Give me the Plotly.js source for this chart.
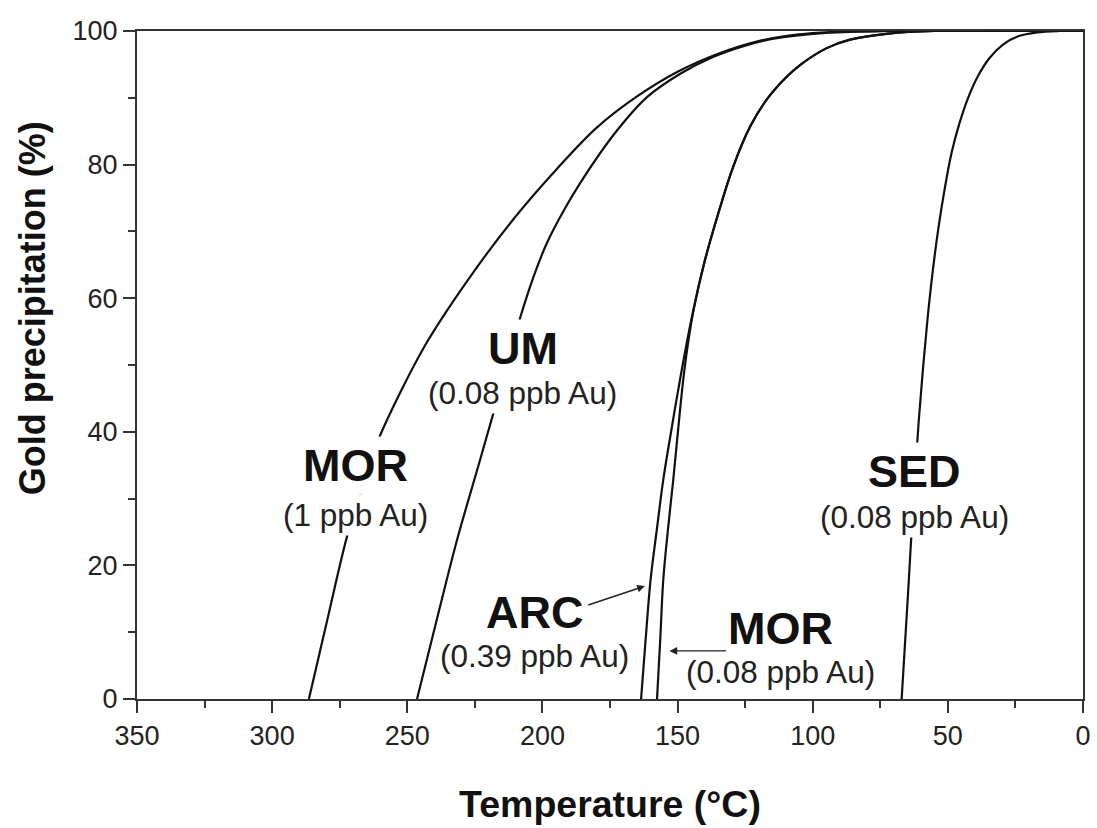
<!DOCTYPE html>
<html>
<head>
<meta charset="utf-8">
<script src="https://cdn.plot.ly/plotly-3.0.1.min.js"></script>
<style>html,body{margin:0;padding:0;background:#fff;}#chart{width:1097px;height:828px;}</style>
</head>
<body>
<div id="chart"></div>
<script>
// Temperature (°C) and gold precipitation (%)
const morHighT = [286.4, 279.5, 271.9, 266, 261.2, 252.7, 242.3, 225.7, 210, 195, 180, 165, 150, 135, 120, 105, 90, 75, 0];
const morHighY = [0, 12, 24.9, 32.2, 38.3, 45.8, 53.7, 63.8, 72.2, 79.2, 85.5, 90.2, 93.9, 96.6, 98.5, 99.5, 99.9, 100, 100];

const umT = [246.4, 239, 231.6, 224, 217.5, 213, 208.3, 203.3, 198.3, 192, 186.1, 173, 161.3, 149, 136.9, 125, 115, 95, 70, 0];
const umY = [0, 12, 23.8, 34.5, 43.7, 50.3, 57, 63.2, 68.3, 73.2, 77.2, 84.8, 90.1, 93.6, 96.1, 97.8, 98.8, 99.7, 100, 100];

const arcT = [163.5, 161.8, 160.0, 157.6, 155.3, 152.2, 149.1, 144.8, 140, 135, 129.5, 123, 116.9, 110, 104.7, 95, 86.2, 72, 55, 0];
const arcY = [0, 9, 17.8, 25.6, 32.8, 40.5, 47.8, 57, 65.5, 72.6, 79.6, 85.8, 89.8, 93, 94.9, 97.4, 98.7, 99.6, 100, 100];

const morLowT = [157.6, 156.4, 155.3, 153.4, 151.6, 149.8, 147.9, 146, 144, 140, 135, 129.5, 123, 116.9, 110, 104.7, 95, 86.2, 72, 55, 0];
const morLowY = [0, 9, 17.8, 26, 32.8, 40.3, 47.8, 53.6, 58.4, 65.5, 72.6, 79.6, 85.8, 89.8, 93, 94.9, 97.4, 98.7, 99.6, 100, 100];

const sedT = [67.1, 65.9, 64.7, 63.5, 62.2, 60.8, 59.2, 57.5, 55.6, 53.5, 51.2, 48.6, 45.7, 42.5, 38.8, 34.5, 29.5, 24, 17, 9, 0];
const sedY = [0, 8, 16, 24.5, 33, 41.5, 49.5, 57, 64, 70.5, 76.3, 81.8, 86.2, 90, 93.3, 96, 98, 99.2, 99.8, 100, 100];

// Labels: name, concentration, position (T, %)
const labelNames = ["MOR", "UM", "ARC", "MOR", "SED"];
const labelConc = ["(1 ppb Au)", "(0.08 ppb Au)", "(0.39 ppb Au)", "(0.08 ppb Au)", "(0.08 ppb Au)"];
const labelT = [269.3, 207.2, 202.8, 112.1, 62.2];
const labelNameY = [34.9, 52.4, 13.0, 10.6, 34.0];
const labelConcY = [27.6, 45.8, 6.4, 4.0, 27.2];

// Arrows: [tail T, tail %, head T, head %]
const arrowARC = [183.6, 14.0, 162.1, 16.9];
const arrowMOR = [131.5, 7.2, 153.0, 7.2];

const FONT = "Liberation Sans, Arial, sans-serif";
const lineStyle = {color: "#111", width: 2.2, shape: "spline", smoothing: 1};

const traces = [
  {x: morHighT, y: morHighY},
  {x: umT, y: umY},
  {x: arcT, y: arcY},
  {x: morLowT, y: morLowY},
  {x: sedT, y: sedY}
].map(d => Object.assign({type: "scatter", mode: "lines", line: lineStyle, hoverinfo: "skip", cliponaxis: true}, d));

const annotations = [];
for (let i = 0; i < labelNames.length; i++) {
  annotations.push({x: labelT[i], y: labelNameY[i], xref: "x", yref: "y", text: "<b>" + labelNames[i] + "</b>",
    showarrow: false, font: {family: FONT, size: 45, color: "#111"}, bgcolor: "#fff", borderpad: 3});
  annotations.push({x: labelT[i], y: labelConcY[i], xref: "x", yref: "y", text: labelConc[i],
    showarrow: false, font: {family: FONT, size: 31.5, color: "#222"}, bgcolor: "#fff", borderpad: 2});
}
[arrowARC, arrowMOR].forEach(a => {
  annotations.push({x: a[2], y: a[3], ax: a[0], ay: a[1], xref: "x", yref: "y", axref: "x", ayref: "y",
    text: "", showarrow: true, arrowhead: 2, arrowsize: 1.1, arrowwidth: 1.4, arrowcolor: "#222", standoff: 0});
});
// Y-axis title (placed above the axis centre, as in the reference)
annotations.push({x: -0.111, y: 0.585, xref: "paper", yref: "paper", xanchor: "center", yanchor: "middle",
  text: "<b>Gold precipitation (%)</b>",
  textangle: -90, showarrow: false, font: {family: FONT, size: 36, color: "#111"}});

const axisCommon = {
  showline: true, linecolor: "#333", linewidth: 2, mirror: true,
  ticks: "outside", ticklen: 12, tickwidth: 2, tickcolor: "#333",
  showgrid: false, zeroline: false,
  tickfont: {family: FONT, size: 27, color: "#222"}
};

const layout = {
  width: 1097, height: 828,
  margin: {l: 137, r: 14, t: 31, b: 129},
  paper_bgcolor: "#fff", plot_bgcolor: "#fff",
  showlegend: false,
  xaxis: Object.assign({}, axisCommon, {
    range: [350, 0], autorange: false, tickmode: "linear", tick0: 0, dtick: 50,
    minor: {ticks: "outside", ticklen: 7, tickwidth: 2, tickcolor: "#333", dtick: 25, showgrid: false},
    title: {text: "<b>Temperature (°C)</b>", font: {family: FONT, size: 37.5, color: "#111"}, standoff: 40}
  }),
  yaxis: Object.assign({}, axisCommon, {
    range: [0, 100], autorange: false, tickmode: "linear", tick0: 0, dtick: 20,
    minor: {ticks: "outside", ticklen: 7, tickwidth: 2, tickcolor: "#333", dtick: 10, showgrid: false}
  }),
  annotations: annotations
};

Plotly.newPlot("chart", traces, layout, {displayModeBar: false, staticPlot: true});
</script>
</body>
</html>
